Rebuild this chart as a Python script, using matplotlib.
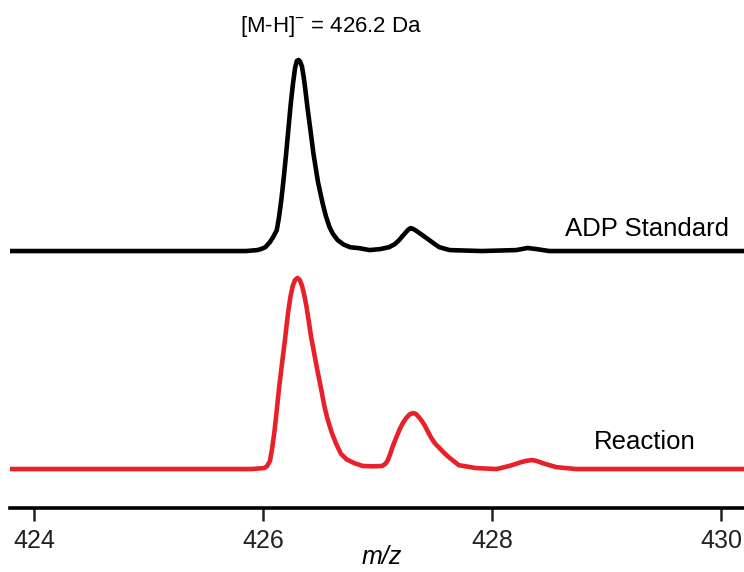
import matplotlib
matplotlib.use("Agg")
import matplotlib.pyplot as plt

plt.rcParams["font.family"] = ["Liberation Sans", "DejaVu Sans"]
plt.rcParams["mathtext.fontset"] = "custom"
plt.rcParams["mathtext.rm"] = "Liberation Sans"
plt.rcParams["mathtext.it"] = "Liberation Sans:italic"

# ADP standard trace (m/z, relative intensity %)
std_mz = [423.79, 425.00, 425.85, 425.95, 425.98, 426.02, 426.06, 426.09, 426.12,
          426.14, 426.16, 426.18, 426.20, 426.22, 426.24, 426.26, 426.28, 426.295,
          426.31, 426.325, 426.34, 426.355, 426.37, 426.39, 426.41, 426.44, 426.48,
          426.52, 426.55, 426.58, 426.61, 426.65, 426.70, 426.76, 426.84, 426.93,
          427.02, 427.10, 427.15, 427.19, 427.22, 427.25, 427.27, 427.29, 427.31,
          427.34, 427.39, 427.45, 427.50, 427.54, 427.63, 427.91, 428.21, 428.31,
          428.39, 428.50, 429.00, 430.20]
std_int = [0, 0, 0, 0.5, 1, 2, 4.7, 7.5, 11,
           18, 27, 38, 50, 63, 76, 87, 96, 99.5,
           100, 99, 96.5, 91, 84, 74, 65, 51, 36,
           25, 18, 12.6, 9, 5.8, 3.5, 2, 1.5, 0.5,
           1, 2, 3.6, 5.8, 8, 10, 11.3, 12, 11.6,
           10.5, 8.4, 5.8, 3.6, 2, 0.5, 0, 0.5, 1.6,
           1, 0, 0, 0]

# reaction mixture trace
rxn_mz = [423.79, 425.00, 425.90, 426.01, 426.035, 426.06, 426.08, 426.10, 426.12,
          426.14, 426.165, 426.19, 426.205, 426.22, 426.24, 426.26, 426.28, 426.30,
          426.32, 426.34, 426.36, 426.38, 426.40, 426.42, 426.445, 426.47, 426.49,
          426.51, 426.535, 426.56, 426.60, 426.64, 426.68, 426.73, 426.80, 426.87,
          426.96, 427.04, 427.07, 427.09, 427.11, 427.13, 427.16, 427.19, 427.22,
          427.25, 427.28, 427.31, 427.335, 427.36, 427.385, 427.41, 427.44, 427.47,
          427.50, 427.54, 427.585, 427.63, 427.71, 427.86, 428.04, 428.15, 428.26,
          428.31, 428.35, 428.39, 428.44, 428.56, 428.73, 429.50, 430.20]
rxn_int = [0, 0, 0, 0.5, 1.5, 4.2, 11, 20, 31,
           42.6, 55, 67, 75, 82.5, 90.5, 96, 99, 100,
           99, 96, 91, 84.7, 77, 69, 61, 53, 47,
           41, 33, 26.8, 19, 13, 8, 5, 3, 1.6,
           1.4, 1.6, 2.8, 4.7, 7.8, 11.5, 16, 20.4, 24,
           26.7, 28.6, 29.3, 28.8, 27.2, 25.3, 23, 19.5, 16.2,
           13.5, 11, 8.2, 5.8, 2, 0.5, 0, 1.6, 3.7,
           4.4, 4.7, 4.2, 3.1, 1, 0, 0, 0]

STD_OFFSET = 114.1
xticks = [424, 426, 428, 430]

fig = plt.figure(figsize=(7.44, 5.72), dpi=100)
ax = fig.add_axes([10 / 744, 64 / 572, 1 - 10 / 744, 1 - 64 / 572])

ax.plot(std_mz, [v + STD_OFFSET for v in std_int], color="black", lw=3.3,
        solid_joinstyle="round", solid_capstyle="butt")
ax.plot(rxn_mz, rxn_int, color="#e8202a", lw=3.3,
        solid_joinstyle="round", solid_capstyle="butt")

ax.set_xlim(423.79, 430.2)
ax.set_ylim(-20.4, 245.5)

for side in ("top", "right", "left"):
    ax.spines[side].set_visible(False)
ax.spines["bottom"].set_linewidth(2.6)
ax.set_yticks([])
ax.set_xticks(xticks)
ax.set_xticklabels([str(t) for t in xticks])
ax.tick_params(axis="x", direction="out", length=9, width=1.8,
               labelsize=18, pad=6, colors="#222222")

# axis title sits a little right of centre, below the tick labels
ax.set_xlabel("m/z", fontsize=18, fontstyle="italic", va="center")
ax.xaxis.set_label_coords((382 - 10) / 734, -49 / 508)

ax.text(426.59, 231.5, r"[M-H]$^{-}$ = 426.2 Da", fontsize=16, ha="center", va="center")
ax.text(430.07, 125.5, "ADP Standard", fontsize=18.5, ha="right", va="center")
ax.text(429.33, 14, "Reaction", fontsize=18.5, ha="center", va="center")

fig.savefig("out.png", dpi=100)
